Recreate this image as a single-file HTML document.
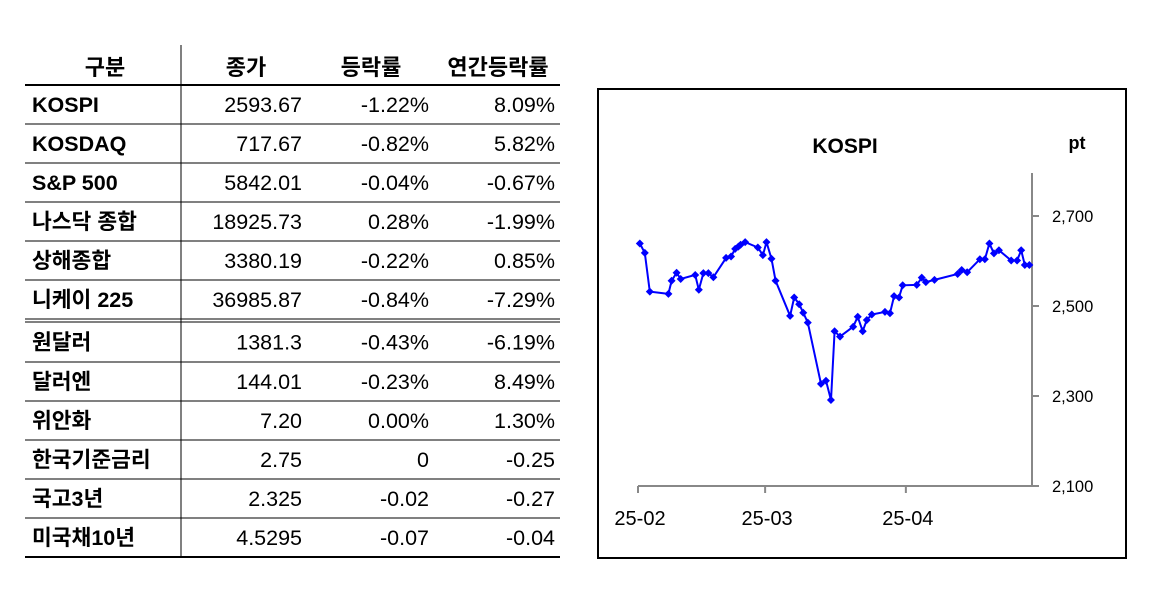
<!DOCTYPE html>
<html><head><meta charset="utf-8"><style>
html,body{margin:0;padding:0;background:#fff;width:1164px;height:613px;overflow:hidden}
svg text{font-family:"Liberation Sans","Noto Sans CJK KR",sans-serif}
</style></head><body>
<svg id="root" width="1164" height="613" viewBox="0 0 1164 613">
<g id="table"></g>
<rect x="598" y="89" width="528" height="469" fill="none" stroke="#000" stroke-width="2"/>
<text x="845" y="153" font-size="21" font-weight="bold" text-anchor="middle">KOSPI</text>
<text x="1077" y="149" font-size="18" font-weight="bold" text-anchor="middle">pt</text>
<g id="chart"></g>
</svg>
<script>
const headers=["구분","종가","등락률","연간등락률"];
const names=["KOSPI","KOSDAQ","S&P 500","나스닥 종합","상해종합","니케이 225","원달러","달러엔","위안화","한국기준금리","국고3년","미국채10년"];
const closes=["2593.67","717.67","5842.01","18925.73","3380.19","36985.87","1381.3","144.01","7.20","2.75","2.325","4.5295"];
const changes=["-1.22%","-0.82%","-0.04%","0.28%","-0.22%","-0.84%","-0.43%","-0.23%","0.00%","0","-0.02","-0.07"];
const annual=["8.09%","5.82%","-0.67%","-1.99%","0.85%","-7.29%","-6.19%","8.49%","1.30%","-0.25","-0.27","-0.04"];

const days=[0.4,1.5,2.6,6.7,7.4,8.5,9.4,12.6,13.4,14.4,15.5,16.6,19.4,20.5,21.4,22.1,22.6,23.6,26.4,27.5,28.3,29.4,30.3,33.5,34.4,35.5,36.4,37.4,40.3,41.4,42.5,43.3,44.5,47.4,48.4,49.5,50.4,51.5,54.4,55.5,56.4,57.5,58.3,61.4,62.5,63.4,65.3,70.4,71.3,72.5,75.3,76.4,77.4,78.4,79.5,82.2,83.5,84.4,85.2,86.2];
const values=[2639,2618,2532,2527,2556,2574,2560,2569,2536,2573,2573,2564,2607,2610,2627,2632,2636,2642,2630,2613,2642,2605,2556,2478,2519,2504,2485,2463,2327,2334,2291,2444,2432,2454,2476,2444,2469,2481,2487,2484,2522,2519,2546,2547,2563,2553,2558,2571,2580,2575,2604,2604,2639,2617,2624,2601,2601,2624,2591,2591];
const yTicks=[2100,2300,2500,2700];
const yTickLabels=["2,100","2,300","2,500","2,700"];
const xTickDays=[0,28,59];
const xTickLabels=["25-02","25-03","25-04"];

const NS="http://www.w3.org/2000/svg";
function mk(tag,attrs,parent,txt){const e=document.createElementNS(NS,tag);for(const k in attrs)e.setAttribute(k,attrs[k]);if(txt!==undefined)e.textContent=txt;parent.appendChild(e);return e;}

const T=document.getElementById('table');
const colRight=[0,302,429,555];
const headX=[105,246,371,498];
headers.forEach((h,i)=>{
  const t=mk('text',{x:headX[i],y:75,'font-size':22,'font-weight':'bold','text-anchor':'middle'},T,h);
  
  
});
mk('line',{x1:181,y1:45,x2:181,y2:557,stroke:'#000','stroke-width':1},T);
mk('line',{x1:25,y1:85,x2:560,y2:85,stroke:'#000','stroke-width':2},T);
const rowTops=[85,124,163,202,241,280,322,362,401,440,479,518];
names.forEach((n,i)=>{
  const top=rowTops[i];const bottom=i===5?319:(i===11?557:rowTops[i+1]);
  const cy=(top+bottom)/2+7.5;
  const g=mk('g',{},T);
  
  
  mk('text',{x:32,y:cy,'font-size':21.5,'font-weight':'bold'},g,n);
  mk('text',{x:colRight[1],y:cy,'font-size':21.5,'text-anchor':'end'},g,closes[i]);
  mk('text',{x:colRight[2],y:cy,'font-size':21.5,'text-anchor':'end'},g,changes[i]);
  mk('text',{x:colRight[3],y:cy,'font-size':21.5,'text-anchor':'end'},g,annual[i]);
  if(i<11) mk('line',{x1:25,y1:bottom,x2:560,y2:bottom,stroke:'#000','stroke-width':1},T);
});
mk('line',{x1:25,y1:322,x2:560,y2:322,stroke:'#000','stroke-width':1},T);
mk('line',{x1:25,y1:557,x2:560,y2:557,stroke:'#000','stroke-width':2},T);

const C=document.getElementById('chart');
const X=d=>638+d*4.54;
const Y=v=>486-(v-2100)*0.45;
mk('line',{x1:1032,y1:173,x2:1032,y2:486,stroke:'#888','stroke-width':2},C);
mk('line',{x1:638,y1:486,x2:1032,y2:486,stroke:'#888','stroke-width':2},C);
yTicks.forEach((v,i)=>{
  mk('line',{x1:1032,y1:Y(v),x2:1039,y2:Y(v),stroke:'#888','stroke-width':2},C);
  const t=mk('text',{x:1052,y:Y(v)+6,'font-size':16.5},C,yTickLabels[i]);
  
  
});
xTickDays.forEach((d,i)=>{
  mk('line',{x1:X(d),y1:486,x2:X(d),y2:493,stroke:'#888','stroke-width':2},C);
  const t=mk('text',{x:X(d)+2,y:525,'font-size':20,'text-anchor':'middle'},C,xTickLabels[i]);
  
  
});
const pts=days.map((d,i)=>X(d).toFixed(1)+','+Y(values[i]).toFixed(1)).join(' ');
const line=mk('polyline',{points:pts,fill:'none',stroke:'#0000ff','stroke-width':2},C);


days.forEach((d,i)=>{
  const x=X(d),y=Y(values[i]);
  const p=mk('polygon',{points:`${x},${y-4} ${x+4},${y} ${x},${y+4} ${x-4},${y}`,fill:'#0000ff'},C);
  
  
});
</script>
</body></html>
